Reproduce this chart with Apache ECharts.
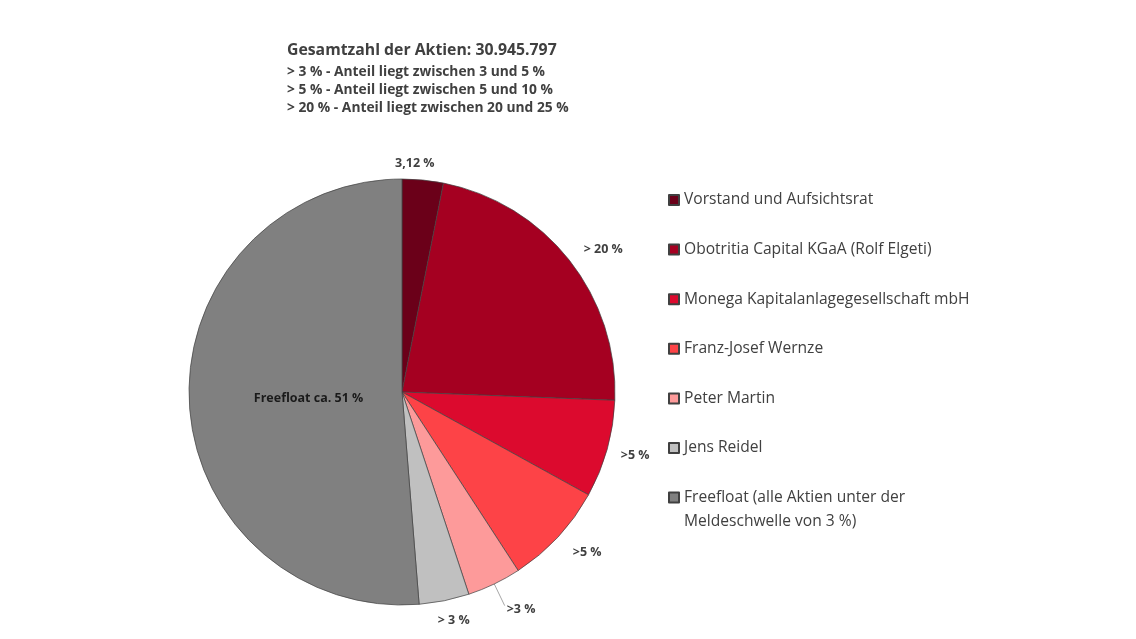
<!DOCTYPE html>
<html>
<head>
<meta charset="utf-8">
<title>Aktionärsstruktur</title>
<script src="https://cdn.jsdelivr.net/npm/echarts@6/dist/echarts.min.js"></script>
<style>
    html, body { margin: 0; padding: 0; background: #fff; }
    #pieChart { width: 1136px; height: 639px; }
</style>
</head>
<body>
<div id="pieChart"></div>
<script>
    // Aktionäre (Reihenfolge im Uhrzeigersinn ab 12 Uhr)
    var holders = [
        'Vorstand und Aufsichtsrat',
        'Obotritia Capital KGaA (Rolf Elgeti)',
        'Monega Kapitalanlagegesellschaft mbH',
        'Franz-Josef Wernze',
        'Peter Martin',
        'Jens Reidel',
        'Freefloat (alle Aktien unter der Meldeschwelle von 3 %)'
    ];
    // Anteile in % (aus dem Bild geschätzt, nur 3,12 ist exakt)
    var shares = [3.12, 22.5, 7.4, 7.8, 4.1, 3.8, 51.28];
    // Beschriftung an den Segmenten
    var sliceLabels = ['3,12 %', '> 20 %', '>5 %', '>5 %', '>3 %', '> 3 %', 'Freefloat ca. 51 %'];
    var colors = ['#6b0019', '#a50021', '#dc0a2e', '#fd4347', '#fd9a9a', '#c0c0c0', '#808080'];
    // kleine Korrekturen der Beschriftung [dx, dy]
    var labelShift = [[-34, -5], [0, -3], [-3, 3], [1, 7], [-3, 4], [-14, 8], [16, 2]];

    var FONT = '"Open Sans", "Noto Sans", sans-serif';

    function buildData(){
        var arr = [];
        for(var i=0; i<holders.length; i++){
            var item = {
                name: holders[i],
                value: shares[i],
                itemStyle: { color: colors[i] },
                label: { formatter: sliceLabels[i] }
            };
            if(i == 4){
                // nur hier eine Führungslinie
                item.labelLine = { show: true, length: 24, length2: 0 };
            }
            if(i == 6){
                item.label = {
                    formatter: sliceLabels[i],
                    position: 'inside',
                    color: '#1a1a1a'
                };
            }
            arr.push(item);
        }
        return arr;
    }

    function setPieOptions(){
        var option = {
            animation: false,
            textStyle: { fontFamily: FONT },
            title: {
                left: 282,
                top: 35,
                itemGap: 2,
                text: 'Gesamtzahl der Aktien: 30.945.797',
                textStyle: { fontFamily: FONT, fontSize: 15.8, fontWeight: 'bold', color: '#404040', lineHeight: 21 },
                subtext: '> 3 % - Anteil liegt zwischen 3 und 5 %\n> 5 % - Anteil liegt zwischen 5 und 10 %\n> 20 % - Anteil liegt zwischen 20 und 25 %',
                subtextStyle: { fontFamily: FONT, fontSize: 13.8, fontWeight: 'bold', color: '#404040', lineHeight: 18 }
            },
            legend: {
                orient: 'vertical',
                left: 663,
                top: 185,
                itemWidth: 10,
                itemHeight: 10,
                itemGap: 29.6,
                icon: 'rect',
                selectedMode: false,
                formatter: function(name){
                    // zweite Zeile kommt als eigener Text darunter
                    return name.indexOf('Freefloat') == 0 ? 'Freefloat (alle Aktien unter der' : name;
                },
                textStyle: { fontFamily: FONT, fontSize: 15.6, color: '#404040', lineHeight: 20 },
                data: holders
            },
            graphic: [{
                type: 'text',
                left: 684,
                top: 514,
                style: { text: 'Meldeschwelle von 3 %)', font: '15.6px ' + FONT, fill: '#404040' }
            }],
            series: [{
                name: 'Aktionäre',
                type: 'pie',
                center: [402, 392],
                radius: 213,
                startAngle: 90,
                clockwise: true,
                avoidLabelOverlap: false,
                itemStyle: { borderColor: '#404040', borderWidth: 0.7 },
                label: {
                    show: true,
                    position: 'outside',
                    fontFamily: FONT,
                    fontSize: 12.5,
                    fontWeight: 'bold',
                    color: '#404040'
                },
                labelLine: {
                    show: false,
                    length: 12,
                    length2: 0,
                    lineStyle: { color: '#a6a6a6', width: 1 }
                },
                labelLayout: function(params){
                    var s = labelShift[params.dataIndex];
                    return { dx: s[0], dy: s[1] };
                },
                emphasis: { disabled: true },
                data: buildData()
            }]
        };
        return option;
    }

    var pieChart = echarts.init(document.getElementById('pieChart'));
    pieChart.setOption(setPieOptions());
</script>
</body>
</html>
